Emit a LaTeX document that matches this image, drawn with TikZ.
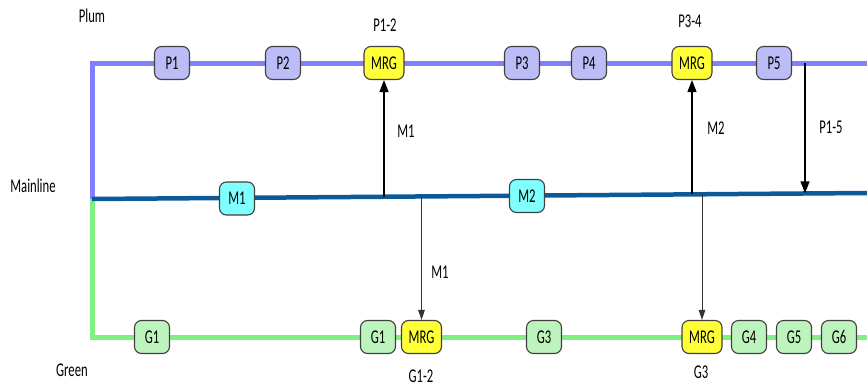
\documentclass[tikz,border=0pt]{standalone}
\usepackage{fontspec}
\setmainfont{Carlito}[FakeStretch=0.65]
\usetikzlibrary{arrows.meta}
\definecolor{plumline}{HTML}{8080FF}
\definecolor{mainline}{HTML}{0D5A98}
\definecolor{greenline}{HTML}{80F080}
\definecolor{plumfill}{HTML}{BCBCF6}
\definecolor{mrgfill}{HTML}{FFFF38}
\definecolor{mainfill}{HTML}{80FFFF}
\definecolor{greenfill}{HTML}{BDF4BD}
\definecolor{boxedge}{HTML}{404040}
\tikzset{
  lbl/.style={font=\fontsize{19.5}{21}\selectfont, inner sep=0pt},
  box/.style={draw=boxedge, line width=1.1pt, rounded corners=7pt, minimum width=35pt,
    minimum height=33pt, inner xsep=6pt, inner sep=0pt, font=\fontsize{19.5}{21}\selectfont},
  pbox/.style={box, fill=plumfill},
  mbox/.style={box, fill=mainfill},
  gbox/.style={box, fill=greenfill},
  mrg/.style={box, fill=mrgfill, minimum width=40pt},
  track/.style={line width=5pt},
  bigarrow/.style={line width=1.4pt, -{Triangle[length=12pt,width=9pt]}},
  thinarrow/.style={line width=0.9pt, draw=black!80, -{Triangle[length=10pt,width=6.5pt]}}
}
\begin{document}
\begin{tikzpicture}[x=1pt,y=-1pt]
\useasboundingbox (0,0) rectangle (867,388);
% track coordinates
\coordinate (pl) at (92,63);
\coordinate (pr) at (867,63);
\coordinate (ml) at (92,199);
\coordinate (mr) at (867,193);
\coordinate (gl) at (92,337);
\coordinate (gr) at (867,337);
% tracks
\draw[track, plumline] (ml) -- (pl) -- (pr);
\draw[track, greenline] (ml) -- (gl) -- (gr);
\draw[track, mainline, line width=4.5pt] (ml) -- (mr);
% plum nodes
\node[pbox] (p1) at (172,63) {P1};
\node[pbox] (p2) at (283,63) {P2};
\node[mrg] (pm1) at (384,63) {MRG};
\node[pbox] (p3) at (522,63) {P3};
\node[pbox] (p4) at (589,63) {P4};
\node[mrg] (pm2) at (692,63) {MRG};
\node[pbox] (p5) at (774,63) {P5};
% mainline nodes
\node[mbox] (m1) at (237,198.5) {M1};
\node[mbox] (m2) at (527,196) {M2};
% green nodes
\node[gbox] (g1) at (152,337) {G1};
\node[gbox] (g1b) at (378,337) {G1};
\node[mrg] (gm1) at (421.5,337) {MRG};
\node[gbox] (g3) at (544,337) {G3};
\node[mrg] (gm2) at (702,337) {MRG};
\node[gbox] (g4) at (749,337) {G4};
\node[gbox] (g5) at (794,337) {G5};
\node[gbox] (g6) at (839,337) {G6};
% arrow endpoints on tracks
\coordinate (a1) at (384,196.7);
\coordinate (a2) at (692,194.4);
\coordinate (a3) at (805,63);
\coordinate (a4) at (805,193.3);
\coordinate (b1) at (421.5,196.4);
\coordinate (b2) at (702,194.3);
% arrows
\draw[bigarrow] (a1) -- (pm1.south);
\draw[bigarrow] (a2) -- (pm2.south);
\draw[bigarrow] (a3) -- (a4);
\draw[thinarrow] (b1) -- (gm1.north);
\draw[thinarrow] (b2) -- (gm2.north);
% labels
\node[lbl] (tplum) at (92,16) {Plum};
\node[lbl] (tmain) at (33,186) {Mainline};
\node[lbl] (tgreen) at (72,370) {Green};
\node[lbl] (tp12) at (385,25) {P1-2};
\node[lbl] (tp34) at (690,21) {P3-4};
\node[lbl] (tm1a) at (406,131) {M1};
\node[lbl] (tm2) at (716,128) {M2};
\node[lbl] (tp15) at (831,127) {P1-5};
\node[lbl] (tm1b) at (440,272) {M1};
\node[lbl] (tg12) at (421,376) {G1-2};
\node[lbl] (tg3) at (701,372) {G3};
\end{tikzpicture}
\end{document}
